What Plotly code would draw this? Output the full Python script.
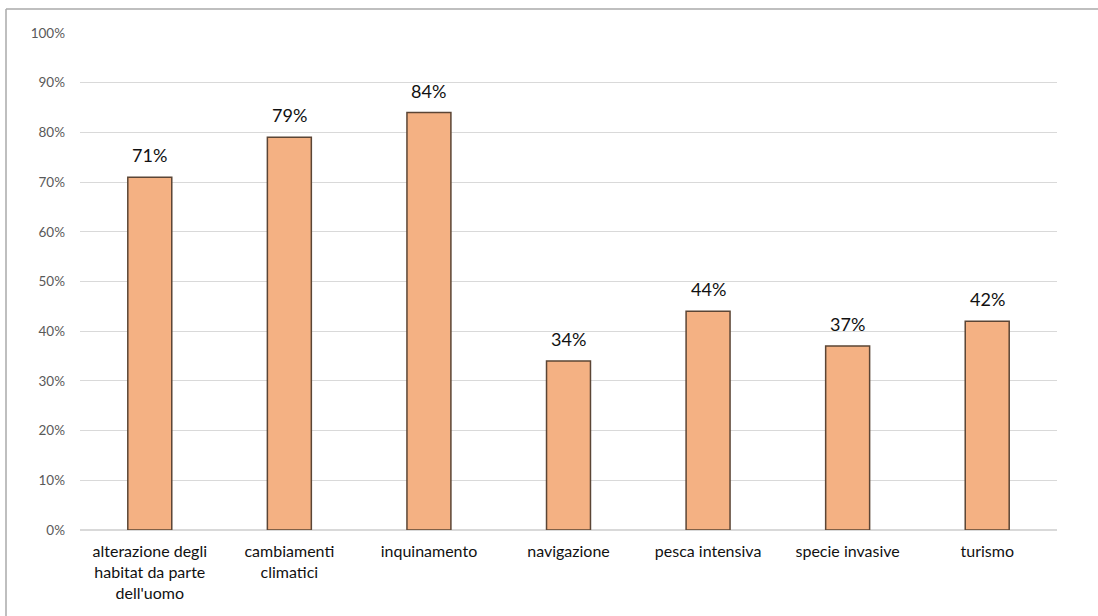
import plotly.graph_objects as go

categories = [
    "alterazione degli<br>habitat da parte<br>dell'uomo",
    "cambiamenti<br>climatici",
    "inquinamento",
    "navigazione",
    "pesca intensiva",
    "specie invasive",
    "turismo",
]
values = [71, 79, 84, 34, 44, 37, 42]
tick_vals = [0, 10, 20, 30, 40, 50, 60, 70, 80, 90, 100]
tick_text = [f"{v}%" for v in tick_vals]

W, H = 1098, 616
L, R, T, B = 80, 41, 33, 86
FONT = "Lato, Open Sans, sans-serif"

fig = go.Figure()
fig.add_trace(go.Bar(
    x=categories,
    y=values,
    width=0.315,
    marker=dict(color="#F4B183", line=dict(color="#5B4535", width=1.5)),
))

# value labels above each bar
for c, v in zip(categories, values):
    fig.add_annotation(
        x=c, y=v, text=f"{v}%", showarrow=False,
        yanchor="bottom", yshift=9,
        font=dict(family=FONT, size=18, color="#111111"),
    )

# chart frame: top and left edges
pw = W - L - R
ph = H - T - B
x0 = (6 - L) / pw
y1 = (H - B - 9) / ph
fig.add_shape(type="line", xref="paper", yref="paper", x0=x0, x1=(W - L) / pw + 0.01,
              y0=y1, y1=y1, line=dict(color="#AAAAAA", width=1.5))
fig.add_shape(type="line", xref="paper", yref="paper", x0=x0, x1=x0,
              y0=y1, y1=-(B + 10) / ph, line=dict(color="#AAAAAA", width=1.5))

fig.update_layout(
    width=W, height=H,
    margin=dict(l=L, r=R, t=T, b=B),
    paper_bgcolor="white",
    plot_bgcolor="white",
    showlegend=False,
    bargap=0.685,
    font=dict(family=FONT),
)
fig.update_yaxes(
    range=[0, 100],
    tickvals=tick_vals,
    ticktext=tick_text,
    showgrid=True,
    gridcolor="#D9D9D9",
    gridwidth=1,
    zeroline=True,
    zerolinecolor="#D9D9D9",
    zerolinewidth=1.5,
    tickfont=dict(size=13.5, color="#595959"),
    ticks="",
    ticklabelstandoff=14,
)
fig.update_xaxes(
    tickfont=dict(size=16, color="#111111"),
    ticks="",
    showline=False,
    tickangle=0,
    ticklabelstandoff=10,
)

fig.write_html("out.html")
